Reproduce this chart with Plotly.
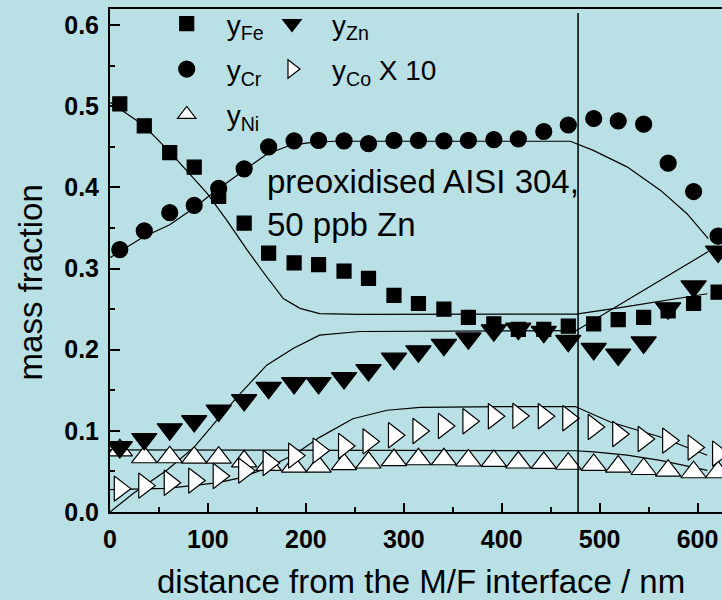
import plotly.graph_objects as go

# ---------------- data ----------------
depth = [10, 35, 61, 86, 111, 137, 162, 188, 213, 239, 264, 290, 315,
         341, 366, 392, 417, 443, 468, 494, 519, 545, 570, 596, 621]

y_fe = [0.503, 0.476, 0.443, 0.425, 0.389, 0.356, 0.319, 0.307, 0.305, 0.297,
        0.288, 0.267, 0.257, 0.250, 0.240, 0.232, 0.225, 0.225, 0.229, 0.232,
        0.237, 0.240, 0.248, 0.257, 0.271]
y_cr = [0.3235, 0.3465, 0.369, 0.378, 0.399, 0.423, 0.450, 0.4575, 0.458, 0.4575,
        0.454, 0.458, 0.458, 0.4575, 0.458, 0.459, 0.460, 0.469, 0.477, 0.485,
        0.482, 0.478, 0.430, 0.395, 0.340]
y_ni = [0.076, 0.0675, 0.0675, 0.067, 0.067, 0.0625, 0.058, 0.056, 0.056, 0.059,
        0.061, 0.064, 0.065, 0.065, 0.0635, 0.063, 0.061, 0.0605, 0.0595, 0.058,
        0.056, 0.053, 0.051, 0.049, 0.049]
y_zn = [0.080, 0.090, 0.102, 0.112, 0.125, 0.138, 0.153, 0.159, 0.159, 0.165,
        0.175, 0.189, 0.198, 0.206, 0.214, 0.224, 0.226, 0.222, 0.211, 0.201,
        0.194, 0.209, 0.251, 0.278, 0.321]
y_co_x10 = [0.0288, 0.0325, 0.036, 0.0387, 0.0444, 0.051, 0.0604, 0.0695, 0.0757,
            0.0814, 0.087, 0.0946, 0.0999, 0.106, 0.1118, 0.118, 0.1184, 0.118,
            0.1155, 0.1048, 0.0962, 0.090, 0.088, 0.0794, 0.072]

# model curves
fit_fe_x = [0, 34, 61, 80, 99, 119, 140, 160, 177, 194, 214, 255, 350, 476, 521, 569, 610]
fit_fe_y = [0.505, 0.477, 0.444, 0.419, 0.393, 0.360, 0.323, 0.290, 0.263, 0.251,
            0.2446, 0.2435, 0.2435, 0.2440, 0.2520, 0.2610, 0.2690]
fit_cr_x = [0, 34, 61, 85, 109, 136, 160, 184, 208, 230, 470, 493, 528, 562, 589, 611]
fit_cr_y = [0.3135, 0.339, 0.354, 0.374, 0.397, 0.420, 0.441, 0.452, 0.456, 0.457,
            0.457, 0.446, 0.4254, 0.3967, 0.368, 0.337]
fit_ni_x = [0, 475, 494, 528, 562, 610]
fit_ni_y = [0.0765, 0.0755, 0.074, 0.070, 0.0637, 0.0514]
fit_zn_x = [0, 24, 58, 86, 109, 133, 160, 187, 214, 255, 476, 611]
fit_zn_y = [0.0, 0.023, 0.0515, 0.080, 0.113, 0.146, 0.181, 0.2015, 0.218, 0.2225,
            0.2235, 0.321]
fit_co_x = [0, 58, 109, 133, 160, 190, 214, 248, 283, 317, 400, 475, 511, 562, 610]
fit_co_y = [0.0276, 0.029, 0.036, 0.042, 0.054, 0.072, 0.092, 0.115, 0.1254, 0.129,
            0.130, 0.130, 0.111, 0.0925, 0.070]

interface_depth = 478
x_ticks = [0, 100, 200, 300, 400, 500, 600]
y_ticks = [0.0, 0.1, 0.2, 0.3, 0.4, 0.5, 0.6]

# ---------------- figure ----------------
BG = "rgb(185,224,228)"
FONT = "Liberation Sans, Arial, sans-serif"

fig = go.Figure()

for fx, fy in [(fit_fe_x, fit_fe_y), (fit_cr_x, fit_cr_y), (fit_ni_x, fit_ni_y),
               (fit_zn_x, fit_zn_y), (fit_co_x, fit_co_y)]:
    fig.add_trace(go.Scatter(x=fx, y=fy, mode="lines", showlegend=False,
                             line=dict(color="black", width=1.2), hoverinfo="skip"))

series = [
    ("y<sub>Fe</sub>", y_fe, "square", "black", 14, "legend", "g1"),
    ("y<sub>Cr</sub>", y_cr, "circle", "black", 16, "legend", "g2"),
    ("y<sub>Ni</sub>", y_ni, "triangle-up", "white", 22, "legend", "g3"),
    ("y<sub>Zn</sub>", y_zn, "triangle-down", "black", 22, "legend2", "g4"),
    ("y<sub>Co</sub> X 10", y_co_x10, "triangle-right", "white", 22, "legend2", "g5"),
]
for name, ys, sym, col, sz, lg, grp in series:
    fig.add_trace(go.Scatter(
        x=depth, y=ys, mode="markers", name=name, legend=lg, legendgroup=grp,
        marker=dict(symbol=sym, color=col, size=sz,
                    line=dict(color="black", width=1.2))))

fig.add_shape(type="line", x0=interface_depth, x1=interface_depth, y0=0, y1=0.615,
              xref="x", yref="y", line=dict(color="black", width=1.5))

fig.add_annotation(x=158, y=0.381, xref="x", yref="y", xanchor="left", yanchor="middle",
                   align="left", showarrow=False,
                   text="preoxidised AISI 304,<br>50 ppb Zn",
                   font=dict(family=FONT, size=33, color="black"))

# axis titles placed as annotations to match the reference positions
fig.add_annotation(x=0, y=0.283, xref="paper", yref="y", xanchor="center",
                   yanchor="middle", xshift=-80, textangle=-90, showarrow=False,
                   text="mass fraction", font=dict(family=FONT, size=33, color="black"))
fig.add_annotation(x=0.508, y=0, xref="paper", yref="paper", xanchor="center",
                   yanchor="middle", yshift=-69, showarrow=False,
                   text="distance from the M/F interface / nm",
                   font=dict(family=FONT, size=33, color="black"))

legend_common = dict(bgcolor="rgba(0,0,0,0)", borderwidth=0,
                     font=dict(family=FONT, size=28, color="black"),
                     tracegroupgap=6, itemwidth=70, yanchor="top", xanchor="left")

fig.update_layout(
    width=722, height=600,
    margin=dict(l=110, r=0, t=9, b=88, autoexpand=False),
    paper_bgcolor=BG, plot_bgcolor=BG,
    font=dict(family=FONT, color="black"),
    legend=dict(x=0.06, y=1.02, **legend_common),
    legend2=dict(x=0.232, y=1.02, **legend_common),
    xaxis=dict(range=[0, 625], tickvals=x_ticks, ticks="inside", ticklen=9,
               tickwidth=2, tickcolor="black", showline=True, linewidth=2,
               linecolor="black", mirror=True, showgrid=False, zeroline=False,
               ticklabelstandoff=4, automargin=False,
               tickfont=dict(family=FONT, size=25, weight="bold"),
               minor=dict(ticks="inside", ticklen=5, tickwidth=1.5, dtick=50,
                          tick0=0, tickcolor="black", showgrid=False)),
    yaxis=dict(range=[0, 0.62], tickvals=y_ticks, tickformat=".1f", ticks="inside",
               ticklen=10, tickwidth=2, tickcolor="black", showline=True,
               linewidth=2, linecolor="black", mirror=False, showgrid=False,
               zeroline=False, ticklabelstandoff=4, automargin=False,
               tickfont=dict(family=FONT, size=25, weight="bold"),
               minor=dict(ticks="inside", ticklen=5, tickwidth=1.5, dtick=0.05,
                          tick0=0, tickcolor="black", showgrid=False)),
)

fig.write_html("out.html")
